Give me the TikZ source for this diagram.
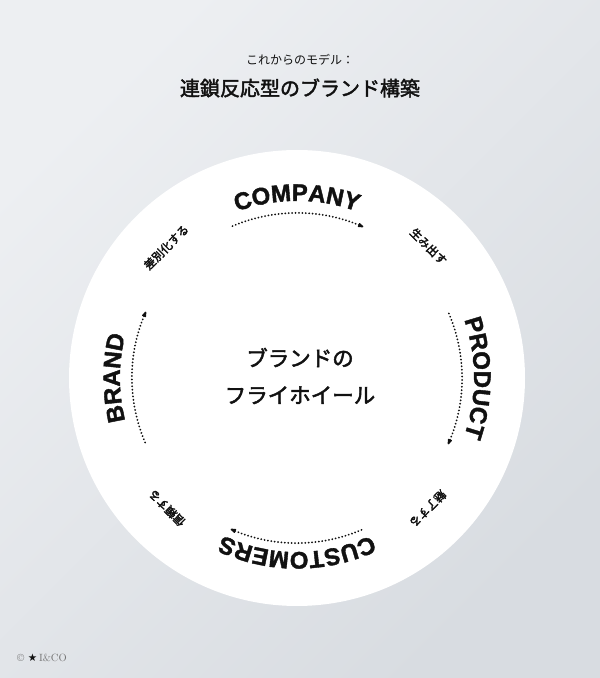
\documentclass[tikz,border=0pt]{standalone}
\usepackage{fontspec}
\usetikzlibrary{decorations.text,arrows.meta}
\newfontfamily\jp{Noto Sans CJK JP}
\newfontfamily\jpb{Noto Sans CJK JP}[FakeBold=2.2]
\newfontfamily\jpl{Noto Sans CJK JP}[FakeBold=2.6]
\newfontfamily\lbl{Liberation Sans}[BoldFeatures={FakeBold=1.6}]
\newfontfamily\symf{DejaVu Sans}
\definecolor{ink}{HTML}{111111}
\definecolor{bgA}{HTML}{EDEFF2}
\definecolor{bgB}{HTML}{D8DCE1}
\newcommand{\lblf}{\lbl\bfseries\fontsize{24}{24}\selectfont\color{ink}}
\tikzset{
  flow/.style={draw=ink, line width=2pt, line cap=round, dash pattern=on 0.01pt off 3.4pt,
    -{Stealth[length=9pt,width=6pt,round]}, shorten >=-2pt},
  jlab/.style={font=\jpl\fontsize{11.5}{12}\selectfont, text=ink, inner sep=0pt},
  ringtext/.style={decorate, decoration={text along path, text align=center, text={|\lblf|#1}}}
}
\begin{document}
\begin{tikzpicture}[x=1pt,y=1pt]
\useasboundingbox (0,0) rectangle (600,678);
\shade[shading=axis, top color=bgA, bottom color=bgB, shading angle=45] (0,0) rectangle (600,678);
\coordinate (c) at (297,300);
% titles
\node[font=\jp\fontsize{12}{13}\selectfont, text=ink] (sub) at (300,618) {これからのモデル：};
\node[font=\jpb\fontsize{20}{21}\selectfont, text=ink] (title) at (300,590) {連鎖反応型のブランド構築};
% disc
\node[circle, fill=white, minimum size=456pt, inner sep=0pt] (disc) at (c) {};
% center text
\node[font=\jpb\fontsize{21.5}{37}\selectfont, text=ink, align=center] (fly) at (300,302) {ブランドの\\フライホイール};
% ring words
\path[ringtext=COMPANY] (c) ++(150:177) arc[start angle=150, end angle=30, radius=177];
\path[ringtext=PRODUCT] (c) ++(60:177) arc[start angle=60, end angle=-60, radius=177];
\path[ringtext=CUSTOMERS] (c) ++(-20:174) arc[start angle=-20, end angle=-160, radius=174];
\path[ringtext=BRAND] (c) ++(240:177) arc[start angle=240, end angle=120, radius=177];
% japanese verbs
\node[jlab, rotate=-45] (make) at ([shift={(45:186)}]c) {生み出す};
\node[jlab, rotate=45] (diff) at ([shift={(135:185)}]c) {差別化する};
\node[jlab, rotate=-135] (charm) at ([shift={(-45:185)}]c) {魅了する};
\node[jlab, rotate=135] (trust) at ([shift={(-135:184)}]c) {信頼する};
% dotted arrows
\draw[flow] (c) ++(113:165) arc[start angle=113, end angle=67, radius=165];
\draw[flow] (c) ++(23:165) arc[start angle=23, end angle=-23, radius=165];
\draw[flow] (c) ++(-67:165) arc[start angle=-67, end angle=-113, radius=165];
\draw[flow] (c) ++(203:165) arc[start angle=203, end angle=157, radius=165];
% copyright
\node[anchor=west, inner sep=0pt, font=\fontsize{10.5}{12}\selectfont, text=black!55] (copy) at (17,20) {\textcopyright\ {\symf\color{ink}★}\,I\&CO};
\end{tikzpicture}
\end{document}
